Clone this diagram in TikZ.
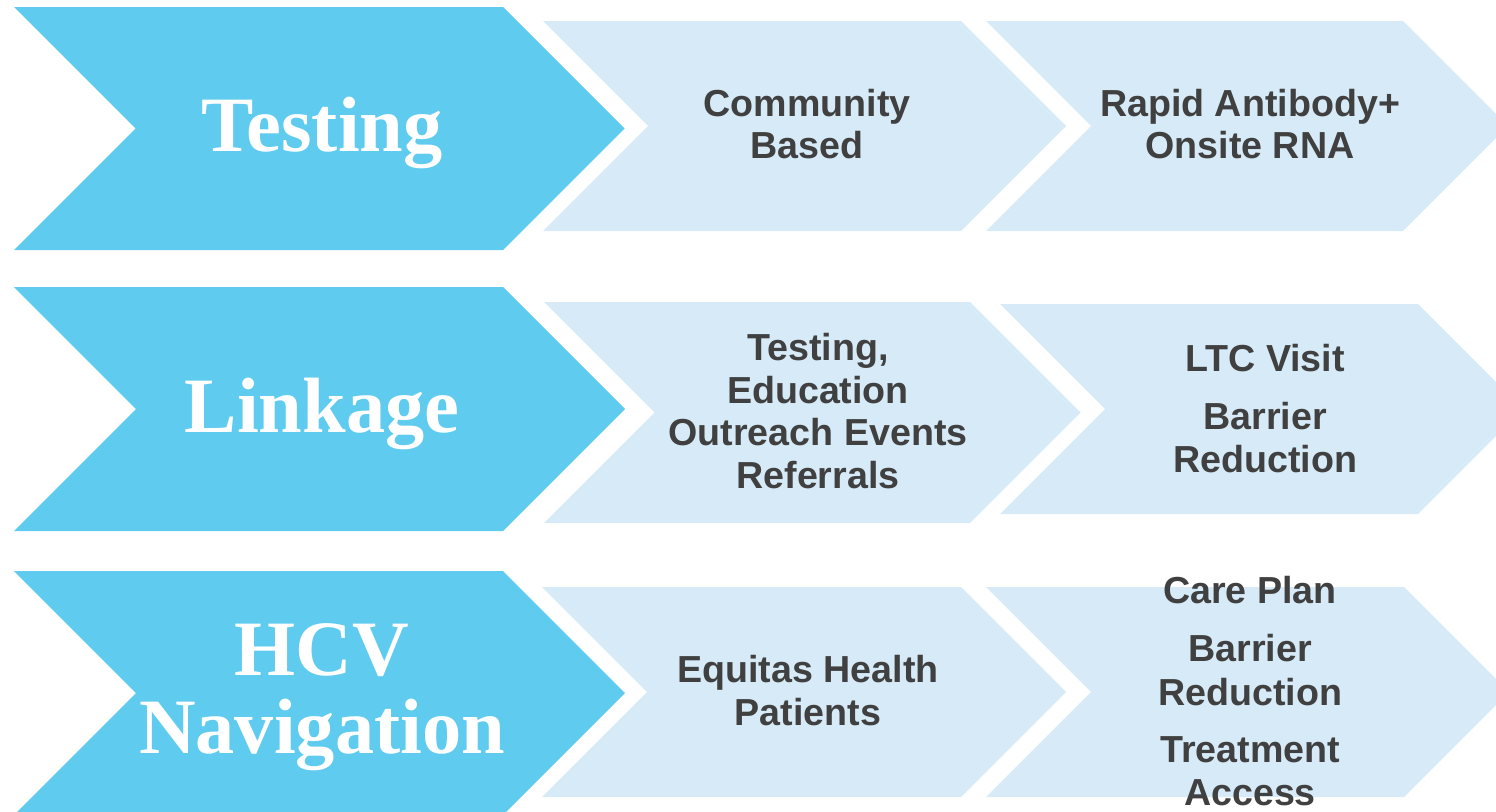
\documentclass[tikz,border=0pt]{standalone}
\usepackage{fontspec}
\setmainfont{Liberation Serif}
\newfontfamily\labelfont{Liberation Sans}
\definecolor{stageBlue}{RGB}{95,203,239}
\definecolor{stepBlue}{RGB}{214,235,247}
\definecolor{textGray}{RGB}{64,64,64}
\tikzset{
    stage/.style={fill=stageBlue},
    substage/.style={fill=stepBlue},
    stage text/.style={text=white, align=center, anchor=base, inner sep=0pt,
        font=\bfseries\fontsize{22.3}{21.9}\selectfont},
    substage text/.style={text=textGray, align=center, anchor=base, inner sep=0pt,
        font=\labelfont\bfseries\fontsize{10.7}{11.95}\selectfont}
}
\begin{document}
\begin{tikzpicture}[x=0.01cm,y=-0.01cm]
    % frame
    \useasboundingbox (0,0) rectangle (1496,812);
    \clip (0,0) rectangle (1496,812);
    % testing row
    \fill [stage] (14,7) -- (503,7) -- (624.5,128.5) -- (503,250) -- (14,250) -- (135.5,128.5) -- cycle;
    \fill [substage] (543,21) -- (961,21) -- (1066,126) -- (961,231) -- (543,231) -- (648,126) -- cycle;
    \fill [substage] (986,21) -- (1403,21) -- (1508,126) -- (1403,231) -- (986,231) -- (1091,126) -- cycle;
    % linkage row
    \fill [stage] (14,287) -- (503,287) -- (625,409) -- (503,531) -- (14,531) -- (136,409) -- cycle;
    \fill [substage] (544,302) -- (970,302) -- (1080.5,412.5) -- (970,523) -- (544,523) -- (654.5,412.5) -- cycle;
    \fill [substage] (1000,304) -- (1418,304) -- (1523,409) -- (1418,514) -- (1000,514) -- (1105,409) -- cycle;
    % navigation row
    \fill [stage] (14,571) -- (503,571) -- (625,693) -- (503,815) -- (14,815) -- (136,693) -- cycle;
    \fill [substage] (542,587) -- (961,587) -- (1066,692) -- (961,797) -- (542,797) -- (647,692) -- cycle;
    \fill [substage] (986,587) -- (1404,587) -- (1509,692) -- (1404,797) -- (986,797) -- (1091,692) -- cycle;
    % stage labels (base = last line)
    \node [stage text] (testing) at (322,151) {Testing};
    \node [stage text] (linkage) at (322,432) {Linkage};
    \node [stage text] (navigation) at (322,753) {HCV\\Navigation};
    % testing steps
    \node [substage text] (community) at (807,159) {Community\\Based};
    \node [substage text] (rapid) at (1250,159) {Rapid Antibody+\\Onsite RNA};
    % linkage steps
    \node [substage text] (outreach) at (818,488) {Testing,\\[0.2pt]Education\\[0.2pt]Outreach Events\\Referrals};
    \node [substage text] (ltc) at (1265,472) {LTC Visit\\[4.8pt]Barrier\\Reduction};
    % navigation steps
    \node [substage text] (equitas) at (808,725) {Equitas Health\\Patients};
    \node [substage text] (careplan) at (1250,805) {Care Plan\\[4.5pt]Barrier\\[0.5pt]Reduction\\[4.5pt]Treatment\\Access};
\end{tikzpicture}
\end{document}
